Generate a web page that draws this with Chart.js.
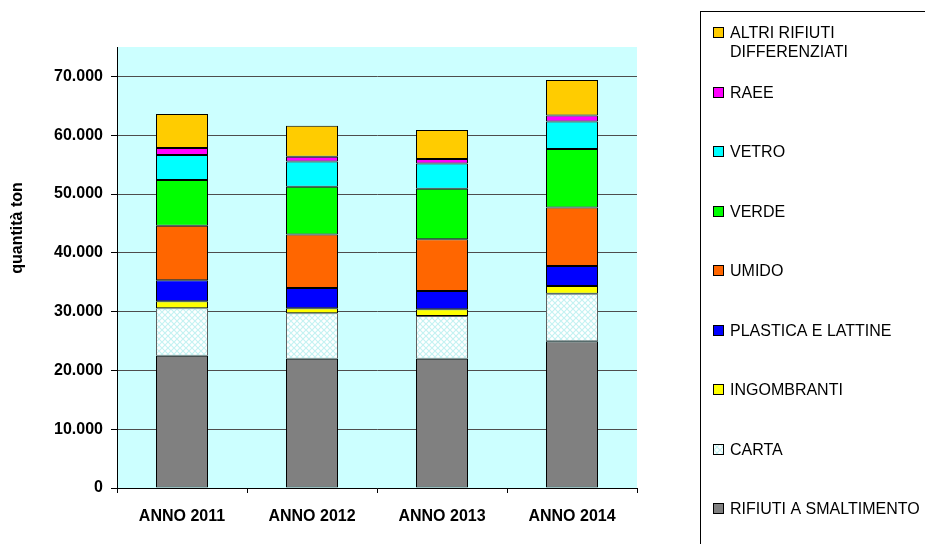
<!DOCTYPE html>
<html>
<head>
<meta charset="utf-8">
<script src="https://cdn.jsdelivr.net/npm/chart.js@4.4.1/dist/chart.umd.min.js"></script>
<style>
  html, body { margin: 0; padding: 0; background: #fff; }
  #wrap { width: 925px; height: 544px; }
</style>
</head>
<body>
<div id="wrap"><canvas id="chart" width="925" height="544"></canvas></div>
<script>
// years on the x axis
var anni = ["ANNO 2011", "ANNO 2012", "ANNO 2013", "ANNO 2014"];

// tonnes per waste stream, bottom of the stack first
var rifiutiSmaltimento = [22490, 21980, 21980, 24940];
var carta              = [8070, 7730, 7270, 8110];
var ingombranti        = [1190, 850, 1140, 1310];
var plasticaLattine    = [3580, 3460, 3120, 3410];
var umido              = [9250, 9080, 8810, 9930];
var verde              = [7790, 8130, 8570, 9950];
var vetro              = [4260, 4310, 4310, 4700];
var raee               = [1190, 800, 750, 1020];
var altriDifferenziati = [5790, 5280, 4940, 6030];

// y axis: labelled ticks, the scale runs a little higher
var yTicks = [0, 10000, 20000, 30000, 40000, 50000, 60000, 70000];
var yMax = 75000;
var yTitolo = "quantità ton";

var FONT = "'Liberation Sans', Arial, sans-serif";

// white fill with a light cyan lattice for the paper stream
function cartaPattern() {
  var c = document.createElement("canvas");
  c.width = 6; c.height = 6;
  var g = c.getContext("2d");
  g.fillStyle = "#ffffff";
  g.fillRect(0, 0, 6, 6);
  g.strokeStyle = "#c4f2f2";
  g.lineWidth = 1.2;
  g.beginPath();
  g.moveTo(0, 0); g.lineTo(6, 6);
  g.moveTo(6, 0); g.lineTo(0, 6);
  g.stroke();
  return document.getElementById("chart").getContext("2d").createPattern(c, "repeat");
}

function serie(label, data, color) {
  return {
    label: label,
    data: data,
    backgroundColor: color,
    borderColor: "#000000",
    borderWidth: 1,
    borderSkipped: false
  };
}

var datasets = [
  serie("RIFIUTI A SMALTIMENTO", rifiutiSmaltimento, "#808080"),
  serie("CARTA", carta, cartaPattern()),
  serie("INGOMBRANTI", ingombranti, "#ffff00"),
  serie("PLASTICA E LATTINE", plasticaLattine, "#0000ff"),
  serie("UMIDO", umido, "#ff6600"),
  serie("VERDE", verde, "#00ff00"),
  serie("VETRO", vetro, "#00ffff"),
  serie("RAEE", raee, "#ff00ff"),
  serie(["ALTRI RIFIUTI", "DIFFERENZIATI"], altriDifferenziati, "#ffcc00")
];
datasets[1].borderColor = "#606060";

function migliaia(v) {
  return String(v).replace(/\B(?=(\d{3})+(?!\d))/g, ".");
}

// light cyan plot background
var sfondo = {
  id: "sfondo",
  beforeDraw: function(chart) {
    var a = chart.chartArea, ctx = chart.ctx;
    ctx.save();
    ctx.fillStyle = "#ccffff";
    ctx.fillRect(a.left, a.top, a.right - a.left, a.bottom - a.top);
    ctx.restore();
  }
};

// rotated y title, sitting a bit above the middle of the axis
var titoloY = {
  id: "titoloY",
  afterDraw: function(chart) {
    var ctx = chart.ctx;
    ctx.save();
    ctx.translate(18, 228);
    ctx.rotate(-Math.PI / 2);
    ctx.font = "bold 16px " + FONT;
    ctx.fillStyle = "#000000";
    ctx.textAlign = "center";
    ctx.textBaseline = "middle";
    ctx.fillText(yTitolo, 0, 0);
    ctx.restore();
  }
};

// boxed legend on the right, top series listed first
var legenda = {
  id: "legenda",
  afterDraw: function(chart) {
    var ctx = chart.ctx;
    ctx.save();
    ctx.strokeStyle = "#000000";
    ctx.lineWidth = 1;
    ctx.strokeRect(700.5, 11.5, 300, 600);
    ctx.font = "16px " + FONT;
    ctx.textBaseline = "middle";
    ctx.fillStyle = "#000000";
    var ds = chart.data.datasets;
    for (var i = 0; i < ds.length; i++) {
      var d = ds[ds.length - 1 - i];
      var y = Math.round(33 + i * 59.5);
      ctx.fillStyle = d.backgroundColor;
      ctx.fillRect(713.5, y - 5.5, 10, 10);
      ctx.strokeStyle = "#000000";
      ctx.strokeRect(713.5, y - 5.5, 10, 10);
      ctx.fillStyle = "#000000";
      var righe = Array.isArray(d.label) ? d.label : [d.label];
      for (var r = 0; r < righe.length; r++) {
        ctx.fillText(righe[r], 730, y + 1 + r * 19);
      }
    }
    ctx.restore();
  }
};

new Chart(document.getElementById("chart"), {
  type: "bar",
  data: { labels: anni, datasets: datasets },
  plugins: [sfondo, titoloY, legenda],
  options: {
    responsive: false,
    animation: false,
    layout: { padding: { left: 0, top: 47, right: 288, bottom: 0 } },
    datasets: { bar: { categoryPercentage: 1, barPercentage: 0.4 } },
    plugins: { legend: { display: false }, tooltip: { enabled: false } },
    scales: {
      x: {
        stacked: true,
        afterFit: function(s) { s.height = 56; },
        border: { color: "#000000", width: 1 },
        grid: { offset: true, drawOnChartArea: false, tickLength: 5, tickColor: "#000000" },
        ticks: {
          padding: 14,
          color: "#000000",
          font: { family: FONT, size: 16, weight: "bold" }
        }
      },
      y: {
        stacked: true,
        min: 0,
        max: yMax,
        afterFit: function(s) { s.width = 117; },
        afterBuildTicks: function(s) {
          s.ticks = yTicks.map(function(v) { return { value: v }; });
        },
        border: { color: "#000000", width: 1 },
        grid: { color: "#4d4d4d", tickLength: 6, tickColor: "#000000" },
        ticks: {
          padding: 8,
          color: "#000000",
          font: { family: FONT, size: 16, weight: "bold" },
          callback: function(v) { return migliaia(v); }
        }
      }
    }
  }
});
</script>
</body>
</html>
